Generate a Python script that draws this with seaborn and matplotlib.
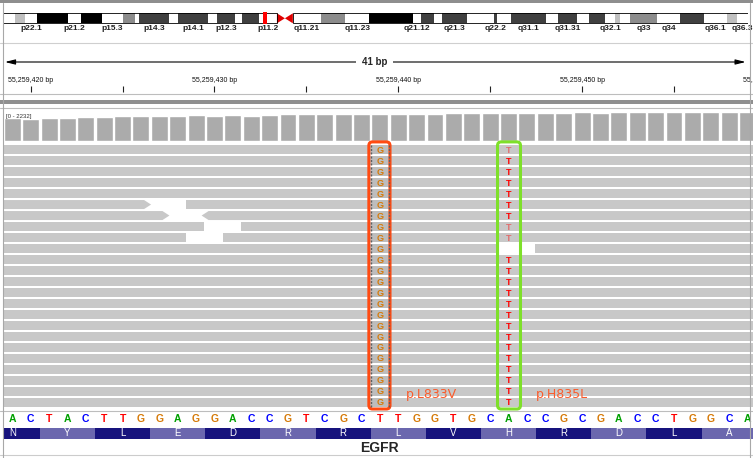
import numpy as np
import pandas as pd
import seaborn as sns
import matplotlib.pyplot as plt
from matplotlib.patches import Rectangle, Polygon, FancyBboxPatch
from matplotlib.lines import Line2D

sns.set_style("white")
plt.rcParams['font.family'] = ['Liberation Sans', 'DejaVu Sans']

# --- chr7 ideogram (band edges in Mb) ---
band_edges = [0, 2.6, 4.7, 7.3, 13.9, 16.7, 21.1, 25.6, 28.2, 29.0, 35.5, 37.4, 43.8, 45.7,
              49.6, 51.1, 54.7, 58.5, 61.9, 67.9, 73.1, 78.2, 87.6, 89.3, 92.1, 93.8, 99.1,
              104.9, 105.5, 108.5, 116.0, 118.5, 122.6, 125.2, 128.6, 130.7, 131.8, 133.9,
              139.7, 144.6, 149.7, 154.6, 156.8, 159.1]
band_stains = ['gneg', 'gpos25', 'gneg', 'gpos100', 'gneg', 'gpos100', 'gneg', 'gpos50', 'gneg',
               'gpos75', 'gneg', 'gpos75', 'gneg', 'gpos75', 'gneg', 'gpos75', 'gneg', 'acen',
               'gneg', 'gpos50', 'gneg', 'gpos100', 'gneg', 'gpos75', 'gneg', 'gpos75', 'gneg',
               'gpos75', 'gneg', 'gpos75', 'gneg', 'gpos75', 'gneg', 'gpos75', 'gneg', 'gpos25',
               'gneg', 'gpos50', 'gneg', 'gpos75', 'gneg', 'gpos25', 'gneg']
band_names = ['p22.3', 'p22.2', 'p22.1', 'p21.3', 'p21.2', 'p21.1', 'p15.3', 'p15.2', 'p15.1',
              'p14.3', 'p14.2', 'p14.1', 'p13', 'p12.3', 'p12.2', 'p12.1', 'p11.2', 'cen',
              'q11.21', 'q11.22', 'q11.23', 'q21.11', 'q21.12', 'q21.13', 'q21.2', 'q21.3',
              'q22.1', 'q22.2', 'q22.3', 'q31.1', 'q31.2', 'q31.31', 'q31.32', 'q31.33', 'q32.1',
              'q32.2', 'q32.3', 'q33', 'q34', 'q35', 'q36.1', 'q36.2', 'q36.3']
shown_bands = ['p22.1', 'p21.2', 'p15.3', 'p14.3', 'p14.1', 'p12.3', 'p11.2', 'q11.21', 'q11.23',
               'q21.12', 'q21.3', 'q22.2', 'q31.1', 'q31.31', 'q32.1', 'q33', 'q34', 'q36.1', 'q36.3']
region_mb = 55.6

# --- view chr7:55,259,419-55,259,459 ---
view_start = 55259419
ref_seq = "ACTACTTGGAGGACCGTCGCTTGGTGCACCGCGACCTGGCA"
coverage = [1750, 1690, 1750, 1795, 1870, 1875, 1925, 1920, 1930, 1925, 2000, 1930, 2000, 1960,
            2000, 2055, 2060, 2050, 2060, 2055, 2080, 2090, 2110, 2100, 2130, 2150, 2120, 2160,
            2170, 2150, 2190, 2200, 2180, 2210, 2200, 2220, 2232, 2210, 2225, 2215, 2230]
cov_max = 2232
ruler_major = [55259420, 55259430, 55259440, 55259450, 55259460]
ruler_minor = [55259425, 55259435, 55259445, 55259455]

n_rows = 24
snv_pos = [55259439, 55259446]
snv_alt = ['G', 'T']
snv_missing = [[], [9]]
snv_faint = [[], [0, 7, 8]]
snv_labels = ['p.L833V', 'p.H835L']

# rows where two reads meet (offsets into the view)
gap_rows = [5, 6, 7, 8, 9]
gap_from = [7.55, 8.55, 10.45, 9.45, 26.45]
gap_to = [9.45, 10.3, 12.45, 11.45, 28.45]
arrow_out = [True, True, False, False, False]
arrow_in = [False, True, False, False, False]

aa_letters = list("NYLEDRRLVHRDLA")
aa_first = -1
gene_name = "EGFR"

base_colors = {'A': '#00a000', 'C': '#0000ff', 'G': '#d67a08', 'T': '#ff0000'}
stain_colors = {'gneg': '#ffffff', 'gpos25': '#c0c0c0', 'gpos50': '#8c8c8c',
                'gpos75': '#404040', 'gpos100': '#000000'}

W, H = 753, 458
fig = plt.figure(figsize=(W / 100, H / 100), dpi=100)
fig.patch.set_facecolor('white')


def panel(x0, y0, x1, y1):
    return fig.add_axes([x0 / W, 1 - y1 / H, (x1 - x0) / W, (y1 - y0) / H])


def hline(y, color, lw=0.8, x0=0, x1=W):
    fig.add_artist(Line2D([x0 / W, x1 / W], [1 - y / H] * 2, color=color, lw=lw))


def vline(x, color, lw=0.8, y0=0, y1=H):
    fig.add_artist(Line2D([x / W] * 2, [1 - y0 / H, 1 - y1 / H], color=color, lw=lw))


BP = 18.38
X0 = 3.1
X1 = X0 + len(ref_seq) * BP
xlim = (-0.5, len(ref_seq) - 0.5)

# ideogram
ax = panel(3, 8, 748, 36)
ax.set_xlim(0, band_edges[-1])
ax.set_ylim(28, 0)
ax.set_axis_off()
top, bot = 5.3, 15.3
for i, (a, b) in enumerate(zip(band_edges[:-1], band_edges[1:])):
    if band_stains[i] == 'acen':
        mid = (a + b) / 2
        ax.add_patch(Polygon([(a, top), (mid, (top + bot) / 2), (a, bot)], color='#e00000', lw=0))
        ax.add_patch(Polygon([(b, top), (mid, (top + bot) / 2), (b, bot)], color='#e00000', lw=0))
    else:
        ax.add_patch(Rectangle((a, top), b - a, bot - top, facecolor=stain_colors[band_stains[i]],
                               edgecolor='none'))
    if band_names[i] in shown_bands:
        ax.text((a + b) / 2, 20.5, band_names[i], ha='center', va='center', fontsize=6,
                weight='bold', color='#222222', clip_on=False)
cen = band_stains.index('acen')
ax.add_patch(Rectangle((0, top), band_edges[cen], bot - top, fill=False, edgecolor='black', lw=0.6))
ax.add_patch(Rectangle((band_edges[cen + 1], top), band_edges[-1] - band_edges[cen + 1], bot - top,
                       fill=False, edgecolor='black', lw=0.6))
ax.add_patch(Rectangle((region_mb, top - 0.8), 0.75, bot - top + 1.6, color='#ff0000', lw=0))

# ruler
ax = panel(X0, 43, X1, 94)
ax.set_xlim(*xlim)
ax.set_ylim(51, 0)
ax.set_axis_off()
ax.annotate('', xy=(-0.4, 19), xytext=(39.9, 19),
            arrowprops=dict(arrowstyle='<|-|>,head_length=0.6,head_width=0.15', color='black',
                            lw=0.8, mutation_scale=10, shrinkA=0, shrinkB=0))
ax.text(19.7, 19, f"{len(ref_seq)} bp", ha='center', va='center', fontsize=7, weight='bold',
        bbox=dict(facecolor='white', edgecolor='none', pad=4))
for p in ruler_major:
    x = p - view_start
    ax.vlines(x, 43, 49, color='#222222', lw=0.8, clip_on=False)
    ax.text(x, 37, f"{p:,} bp", ha='center', va='center', fontsize=5, color='#111111', clip_on=False)
for p in ruler_minor:
    ax.vlines(p - view_start, 43, 49, color='#222222', lw=0.8)

# coverage track
ax = panel(X0, 112, X1, 141)
cov_df = pd.DataFrame({'offset': np.arange(len(coverage)), 'depth': coverage})
sns.barplot(data=cov_df, x='offset', y='depth', color='#ababab', saturation=1, width=0.92, ax=ax)
ax.set_xlim(*xlim)
ax.set_ylim(0, cov_max)
ax.set_axis_off()
ax.text(0.004, 0.86, f"[0 - {cov_max}]", transform=ax.transAxes, fontsize=4.3, color='#333333',
        va='center', ha='left')

# reads
ax = panel(X0, 143, X1, 409)
ax.set_xlim(*xlim)
ax.set_ylim(n_rows - 0.4, -0.6)
ax.set_axis_off()
hh = 0.41
tip = 0.38
read_color = '#c8c8c8'


def read(x0, x1, r, tip_left=False, tip_right=False):
    pts = []
    if tip_left:
        pts += [(x0, r), (x0 + tip, r - hh)]
    else:
        pts += [(x0, r + hh), (x0, r - hh)]
    if tip_right:
        pts += [(x1 - tip, r - hh), (x1, r), (x1 - tip, r + hh)]
    else:
        pts += [(x1, r - hh), (x1, r + hh)]
    if tip_left:
        pts += [(x0 + tip, r + hh)]
    ax.add_patch(Polygon(pts, closed=True, facecolor=read_color, edgecolor='none'))


for r in range(n_rows):
    if r in gap_rows:
        k = gap_rows.index(r)
        read(-2, gap_from[k], r, tip_right=arrow_out[k])
        read(gap_to[k], 43, r, tip_left=arrow_in[k])
    else:
        read(-2, 43, r)

for j, (pos, alt) in enumerate(zip(snv_pos, snv_alt)):
    x = pos - view_start
    for r in range(n_rows):
        if r in snv_missing[j]:
            continue
        if j == 0:
            ax.add_patch(Rectangle((x - 0.5, r - hh), 1, 2 * hh, facecolor='#bdbdbd', edgecolor='none'))
            ax.vlines([x - 0.47, x + 0.47], r - hh, r + hh, color='#606060', lw=1.0,
                      linestyles=(0, (1.5, 1)))
        ax.text(x, r + 0.05, alt, ha='center', va='center', fontsize=6.5, weight='bold',
                color=base_colors[alt], alpha=0.45 if r in snv_faint[j] else 1)

box_colors = ['#ff4a12', '#7ee02a']
box_span = [(19.4, 20.55), (26.4, 27.65)]
for (a, b), c, lab in zip(box_span, box_colors, snv_labels):
    ax.add_patch(FancyBboxPatch((a, -0.7), b - a, n_rows + 0.3,
                                boxstyle="round,pad=0,rounding_size=0.2", mutation_aspect=1.67,
                                fill=False, edgecolor=c, lw=2.2, clip_on=False))
    ax.text(b + 0.85, 22.3, lab, ha='left', va='center', fontsize=9, color='#fb5b2b',
            family='DejaVu Sans')

# reference sequence
ax = panel(X0, 411, X1, 426)
ax.set_xlim(*xlim)
ax.set_ylim(0, 1)
ax.set_axis_off()
for i, b in enumerate(ref_seq):
    ax.text(i, 0.45, b, ha='center', va='center', fontsize=7.5, weight='bold', color=base_colors[b])

# amino acids
ax = panel(X0, 427.5, X1, 438.5)
ax.set_xlim(*xlim)
ax.set_ylim(0, 1)
ax.set_axis_off()
aa_colors = ['#17137d', '#6b67ae']
for k, aa in enumerate(aa_letters):
    s = aa_first + 3 * k - 0.5
    ax.add_patch(Rectangle((s, 0), 3, 1, color=aa_colors[k % 2], lw=0))
    ax.text(max(s + 1.5, 0), 0.5, aa, ha='center', va='center', fontsize=7, color='white')

# gene
ax = panel(X0, 439, X1, 456)
ax.set_xlim(*xlim)
ax.set_ylim(0, 1)
ax.set_axis_off()
ax.text((len(ref_seq) - 1) / 2, 0.5, gene_name, ha='center', va='center', fontsize=10, weight='bold')

# panel frames
fig.add_artist(Rectangle((0, 1 - 2.5 / H), 1, 2.5 / H, transform=fig.transFigure,
                         color='#8e8e8e', lw=0))
fig.add_artist(Rectangle((0, 1 - 104 / H), 1, 3.5 / H, transform=fig.transFigure,
                         color='#8f8f8f', lw=0))
hline(43, '#cfcfcf')
hline(93.5, '#bdbdbd')
hline(107.5, '#bdbdbd')
hline(410.5, '#bdbdbd')
hline(455, '#cccccc')
vline(2.7, '#a8a8a8', y0=2.5)
vline(750, '#a8a8a8', y0=2.5)

plt.savefig("out.png", dpi=100)
